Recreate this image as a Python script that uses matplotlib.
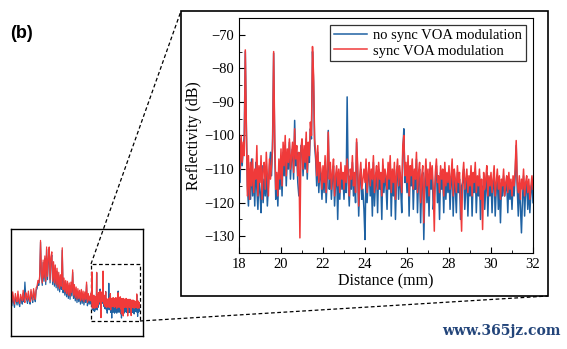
import numpy as np
import matplotlib
matplotlib.use("Agg")
import matplotlib.pyplot as plt
from matplotlib.lines import Line2D
from matplotlib.patches import Rectangle
from matplotlib.ticker import MultipleLocator

# zoomed trace: 18..32 mm, one sample every 0.05 mm
x0, dx = 18.0, 0.05
sync = [
    -103, -110, -100, -108, -102, -106, -74.5, -98, -118, -106, -119, -108, -115, -107, -117, -110, -113, -103, -118, -109,
    -114, -106, -119, -110, -108, -116, -105, -112, -118, -107, -113, -109, -104, -75, -100, -116, -111, -118, -107, -113,
    -104, -115, -102, -109, -100, -112, -104, -108, -101, -110, -106, -102, -111, -98, -107, -103, -112, -105, -130.5, -104,
    -101, -110, -103, -108, -99, -111, -102, -106, -96, -100, -73.5, -82, -101, -105, -112, -103, -114, -108, -110, -116,
    -109, -114, -106, -117, -110, -99, -113, -108, -116, -111, -107, -118, -112, -109, -115, -110, -117, -108, -113, -111,
    -116, -109, -114, -107, -112, -118, -110, -113, -106, -115, -111, -117, -101, -109, -121, -112, -108, -116, -113, -110,
    -114, -107, -117, -111, -108, -115, -110, -113, -106, -117, -112, -109, -116, -108, -113, -111, -118, -107, -114, -110,
    -112, -116, -108, -113, -106, -117, -110, -114, -108, -119, -111, -107, -115, -109, -113, -117, -103, -100, -112, -108,
    -114, -106, -118, -109, -112, -107, -116, -110, -113, -105, -117, -111, -108, -120, -112, -109, -126, -113, -107, -115,
    -110, -118, -108, -113, -109, -116, -128.5, -111, -107, -114, -112, -117, -109, -113, -110, -118, -108, -115, -111, -114,
    -109, -116, -112, -107, -118, -110, -113, -117, -109, -114, -111, -119, -128.5, -112, -108, -116, -113, -110, -117, -112,
    -115, -109, -118, -111, -114, -108, -117, -112, -115, -110, -119, -113, -128, -111, -116, -113, -109, -118, -112, -115,
    -111, -117, -113, -109, -118, -114, -110, -116, -112, -119, -113, -115, -110, -118, -114, -112, -117, -111, -116, -113,
    -118, -112, -115, -110, -101.5, -114, -117, -112, -119, -113, -116, -110, -118, -114, -112, -117, -113, -119, -115, -112,
    -116,
]
no_sync = [
    -105, -114, -101, -109, -104, -100, -75, -97.5, -115, -121, -110, -119, -107, -118, -111, -121, -108, -116, -122, -112,
    -117, -123, -109, -120, -113, -118, -110, -121, -115, -109, -105, -112, -101, -75.5, -104, -119, -113, -121, -110, -116,
    -108, -118, -105, -112, -103, -115, -106, -110, -102, -113, -107, -104, -113, -95.5, -109, -105, -114, -118, -116, -103,
    -103, -112, -105, -110, -101, -113, -104, -108, -98, -101, -75, -84, -103, -107, -115, -105, -117, -110, -113, -119,
    -111, -117, -108, -120, -113, -98.5, -116, -110, -119, -113, -109, -121, -114, -111, -125, -112, -119, -110, -116, -113,
    -119, -111, -117, -88.5, -114, -121, -112, -116, -108, -118, -113, -120, -102, -111, -124, -114, -110, -119, -116, -122,
    -131, -109, -120, -113, -110, -118, -112, -124, -108, -121, -114, -111, -123, -110, -116, -113, -125, -109, -117, -112,
    -115, -122, -110, -116, -108, -124, -112, -118, -110, -125, -113, -109, -119, -111, -116, -123, -105, -98, -114, -110,
    -117, -108, -124, -111, -115, -109, -122, -112, -116, -107, -123, -113, -110, -126, -114, -111, -131, -116, -109, -120,
    -112, -124, -110, -116, -111, -122, -118, -113, -109, -120, -114, -125, -111, -116, -112, -123, -110, -119, -113, -117,
    -111, -122, -114, -109, -124, -112, -116, -123, -111, -117, -113, -125, -115, -114, -110, -122, -116, -112, -124, -114,
    -118, -111, -124, -113, -117, -110, -123, -114, -118, -112, -125, -115, -118, -113, -122, -116, -111, -124, -114, -118,
    -113, -123, -115, -111, -124, -116, -112, -122, -114, -126, -115, -118, -112, -118, -116, -114, -123, -113, -119, -115,
    -122, -114, -118, -112, -103, -116, -124, -114, -121, -129, -119, -112, -124, -116, -114, -122, -115, -123, -117, -114,
    -120,
]

# overview trace before 18 mm, one sample every 0.25 mm
ov_x0, ov_dx = -5.0, 0.25
ov_sync = [
    -104, -112, -99, -108, -114, -101, -107, -111, -98, -109, -113, -102, -106, -110, -97, -108, -112, -100, -105, -109,
    -98, -107, -111, -96, -104, -109, -95, -103, -108, -94,
    -92, -85, -88, -80, -36, -75,
    -88, -60, -82, -55, -86, -44, -80, -58, -44, -84, -56, -50, -86, -62, -88, -66, -90, -70, -93, -75,
    -95, -78, -92, -45, -96, -82, -99, -85, -101, -86, -103, -88, -104, -87, -100, -72, -103, -90, -106, -93,
    -108, -95, -107, -97, -110, -96, -109, -98, -111, -99, -108, -87, -112, -101, -110, -104,
]
ov_no_sync = [
    -108, -116, -103, -112, -118, -105, -110, -115, -102, -113, -117, -106, -109, -114, -101, -111, -87, -104, -108, -113,
    -101, -110, -114, -99, -107, -112, -98, -106, -111, -97,
    -95, -88, -91, -83, -38, -78,
    -91, -63, -86, -58, -90, -47, -84, -62, -46, -88, -60, -54, -90, -66, -92, -70, -94, -74, -97, -79,
    -99, -82, -96, -48, -100, -86, -103, -89, -105, -90, -107, -92, -108, -91, -104, -75, -107, -94, -110, -97,
    -112, -99, -111, -101, -114, -100, -113, -102, -115, -103, -112, -90, -116, -105, -114, -108,
]

labels = ["no sync VOA modulation", "sync VOA modulation"]
blue, red = "#1f62a3", "#f03a3a"

x = x0 + dx * np.arange(len(sync))
ov_x = ov_x0 + ov_dx * np.arange(len(ov_sync))

plt.rcParams["font.family"] = ["Liberation Serif", "DejaVu Serif"]

fig = plt.figure(figsize=(5.67, 3.49), dpi=100)
W, H = 567, 349


def fx(px):
    return px / W


def fy(py):
    return 1 - py / H


# frame around the zoomed panel
fig.add_artist(Rectangle((fx(181), fy(296)), fx(548) - fx(181), fy(11) - fy(296),
                         transform=fig.transFigure, fill=False, ec="black", lw=1.2))

ax = fig.add_axes([fx(239), fy(253), fx(533) - fx(239), fy(18) - fy(253)])
ax.plot(x, no_sync, color=blue, lw=1.1, label=labels[0])
ax.plot(x, sync, color=red, lw=1.1, label=labels[1])
ax.set_xlim(18, 32)
ax.set_ylim(-135, -65)
ax.xaxis.set_major_locator(MultipleLocator(2))
ax.xaxis.set_minor_locator(MultipleLocator(1))
ax.yaxis.set_major_locator(MultipleLocator(10))
ax.yaxis.set_minor_locator(MultipleLocator(5))
ax.tick_params(which="both", direction="in", top=False, right=False, labelsize=10.5)
ax.tick_params(which="major", length=4)
ax.tick_params(which="minor", length=2)
ax.set_xlabel("Distance (mm)", fontsize=11.5, labelpad=2)
ax.set_ylabel("Reflectivity (dB)", fontsize=11.5, labelpad=1)
leg = ax.legend(loc="upper right", fontsize=10.5, frameon=True, fancybox=False,
                edgecolor="black", handlelength=2.3, borderpad=0.25,
                labelspacing=0.15, borderaxespad=0.5, handletextpad=0.4)
leg.get_frame().set_linewidth(0.9)

# overview inset
ax2 = fig.add_axes([fx(11), fy(336), fx(143) - fx(11), fy(229) - fy(336)])
ax2.plot(np.r_[ov_x, x], np.r_[ov_no_sync, no_sync], color=blue, lw=0.9)
ax2.plot(np.r_[ov_x, x], np.r_[ov_sync, sync], color=red, lw=0.9)
ax2.set_xlim(-5, 33)
ax2.set_ylim(-153, -22)
ax2.set_xticks([])
ax2.set_yticks([])
for s in ax2.spines.values():
    s.set_linewidth(1.0)
ax2.add_patch(Rectangle((18, -135), 14, 70, fill=False, ls=(0, (3, 2)), lw=0.9, ec="black"))

# dashed connectors
fig.add_artist(Line2D([fx(91), fx(181)], [fy(264), fy(11)], transform=fig.transFigure,
                      color="black", lw=0.9, ls=(0, (3, 2))))
fig.add_artist(Line2D([fx(140), fx(548)], [fy(321), fy(296)], transform=fig.transFigure,
                      color="black", lw=0.9, ls=(0, (3, 2))))

fig.text(fx(10), fy(34), "(b)", fontsize=13, fontweight="bold",
         family="Liberation Sans", va="center", ha="left")
fig.text(fx(501), fy(331), "www.365jz.com", fontsize=10, fontweight="bold",
         family="DejaVu Serif", color="#23457a", va="center", ha="center")

fig.savefig("out.png", dpi=100)
